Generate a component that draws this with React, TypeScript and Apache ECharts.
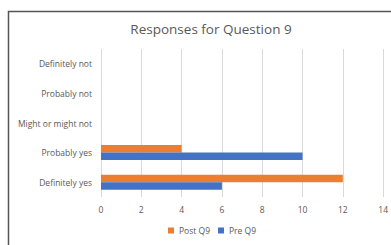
import React, { useEffect, useRef } from "react";
import * as echarts from "echarts";

const categories = ["Definitely yes", "Probably yes", "Might or might not", "Probably not", "Definitely not"];
const preQ9 = [6, 10, 0, 0, 0];
const postQ9 = [12, 4, 0, 0, 0];
const xTicks = { min: 0, max: 14, interval: 2 };

export default function App() {
  const ref = useRef<HTMLDivElement>(null);
  useEffect(() => {
    const chart = echarts.init(ref.current!, null, { renderer: "svg" });
    const font = "'Open Sans', 'Liberation Sans', sans-serif";
    chart.setOption({
      animation: false,
      backgroundColor: "#ffffff",
      title: {
        text: "Responses for Question 9",
        left: 206,
        textAlign: "center",
        top: 17,
        textStyle: { fontFamily: font, fontSize: 13.5, fontWeight: "normal", color: "#595959" },
      },
      graphic: [
        {
          type: "rect",
          shape: { x: 8.5, y: 11.5, width: 420, height: 300 },
          style: { fill: "none", stroke: "#555555", lineWidth: 1.5 },
          silent: true,
        },
      ],
      legend: {
        data: ["Post Q9", "Pre Q9"],
        bottom: 5,
        left: 163,
        itemWidth: 6,
        itemHeight: 6,
        itemGap: 8,
        icon: "rect",
        textStyle: { fontFamily: font, fontSize: 8.5, color: "#595959" },
      },
      grid: { left: 101, top: 49, width: 286, height: 148, containLabel: false },
      xAxis: {
        type: "value",
        min: xTicks.min,
        max: xTicks.max,
        interval: xTicks.interval,
        axisLine: { show: false },
        axisTick: { show: false },
        splitLine: { show: true, lineStyle: { color: "#d9d9d9", width: 1 } },
        axisLabel: { fontFamily: font, fontSize: 8.5, color: "#595959", margin: 8 },
      },
      yAxis: {
        type: "category",
        data: categories,
        axisLine: { show: false },
        axisTick: { show: false },
        axisLabel: { fontFamily: font, fontSize: 8.5, color: "#595959", margin: 9 },
      },
      series: [
        {
          name: "Post Q9",
          type: "bar",
          data: postQ9,
          barWidth: 7.5,
          barGap: "0%",
          itemStyle: { color: "#ED7D31" },
        },
        {
          name: "Pre Q9",
          type: "bar",
          data: preQ9,
          barWidth: 7.5,
          barGap: "0%",
          itemStyle: { color: "#4472C4" },
        },
      ],
    });
    return () => chart.dispose();
  }, []);
  return (
    <div style={{ position: "fixed", left: 0, top: 0, width: 391, height: 245 }}>
      <div ref={ref} style={{ width: 391, height: 245 }} />
    </div>
  );
}
